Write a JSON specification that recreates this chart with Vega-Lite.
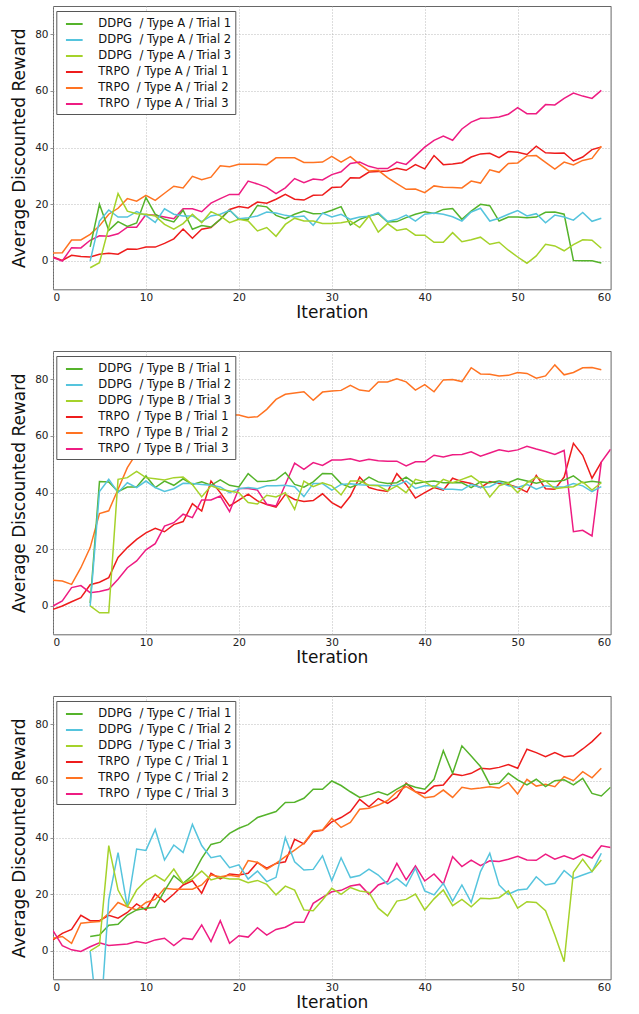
{
  "$schema": "https://vega.github.io/schema/vega-lite/v6.json",
  "padding": {"left": 10, "top": 5, "right": 0, "bottom": 0},
  "spacing": 28,
  "resolve": {"scale": {"color": "independent"}, "legend": {"color": "independent"}},
  "config": {
    "font": "DejaVu Sans",
    "view": {"stroke": "#666", "strokeWidth": 1},
    "axis": {"domain": false, "ticks": false, "grid": true, "gridColor": "#aaaaaa", "gridDash": [1, 2], "gridWidth": 0.8,
      "labelFont": "DejaVu Sans", "labelFontSize": 10.5, "labelColor": "#222222",
      "titleFont": "DejaVu Sans", "titleFontSize": 17, "titleFontWeight": "normal", "titleColor": "#111111"},
    "axisX": {"labelPadding": 3, "titlePadding": 2},
    "axisY": {"ticks": true, "tickSize": 3, "tickColor": "#777777", "tickWidth": 0.8, "labelPadding": 2, "titlePadding": 6},
    "legend": {"orient": "none", "legendX": 3.3, "legendY": 5, "fillColor": "white", "strokeColor": "#555555", "padding": 3.5,
      "symbolType": "stroke", "symbolSize": 279, "symbolStrokeWidth": 2, "symbolOffset": 5, "labelFont": "DejaVu Sans", "labelFontSize": 11.6,
      "labelColor": "#111111", "labelOffset": 14.5, "rowPadding": 0, "labelLimit": 300}
  },
  "vconcat": [
    {
      "width": 557.6, "height": 283.3,
      "data": {"values": [
        {"i":0,"d1":null,"d2":null,"d3":null,"t1":1.4,"t2":2.8,"t3":1.2},
        {"i":1,"d1":null,"d2":null,"d3":null,"t1":0.2,"t2":2.9,"t3":0},
        {"i":2,"d1":null,"d2":null,"d3":null,"t1":2,"t2":7.4,"t3":4.7},
        {"i":3,"d1":null,"d2":null,"d3":null,"t1":1.6,"t2":7.4,"t3":4.6},
        {"i":4,"d1":5,"d2":0,"d3":-2.4,"t1":1.4,"t2":9.4,"t3":7.3},
        {"i":5,"d1":20,"d2":14.1,"d3":-0.6,"t1":2.4,"t2":12.4,"t3":8.9},
        {"i":6,"d1":10.8,"d2":18,"d3":11.8,"t1":2.7,"t2":16.5,"t3":8.7},
        {"i":7,"d1":13.9,"d2":15.5,"d3":23.8,"t1":2.4,"t2":18.6,"t3":9.6},
        {"i":8,"d1":12.2,"d2":15.5,"d3":17.6,"t1":4.2,"t2":22,"t3":11.9},
        {"i":9,"d1":13.4,"d2":17.4,"d3":16.7,"t1":4.1,"t2":21.1,"t3":11.9},
        {"i":10,"d1":22.4,"d2":16,"d3":16.5,"t1":4.9,"t2":23.2,"t3":16.4},
        {"i":11,"d1":16.5,"d2":13.6,"d3":15.9,"t1":4.9,"t2":21.4,"t3":16.1},
        {"i":12,"d1":14.7,"d2":18.4,"d3":12.9,"t1":6.2,"t2":23.9,"t3":15.5},
        {"i":13,"d1":13.8,"d2":16.5,"d3":11.2,"t1":7.8,"t2":26.4,"t3":14.9},
        {"i":14,"d1":17.9,"d2":15.9,"d3":13.2,"t1":11.3,"t2":25.8,"t3":18.4},
        {"i":15,"d1":11.2,"d2":15.9,"d3":16.5,"t1":8,"t2":29.9,"t3":18.4},
        {"i":16,"d1":12.5,"d2":13.9,"d3":13.5,"t1":11.2,"t2":28.7,"t3":17.4},
        {"i":17,"d1":12,"d2":15.9,"d3":17.4,"t1":11.8,"t2":29.6,"t3":20.4},
        {"i":18,"d1":14.7,"d2":16.5,"d3":15.9,"t1":14.7,"t2":33.6,"t3":22},
        {"i":19,"d1":18,"d2":17.9,"d3":13.5,"t1":18.2,"t2":33.3,"t3":23.5},
        {"i":20,"d1":14.7,"d2":14.9,"d3":14.7,"t1":19.2,"t2":34.1,"t3":23.5},
        {"i":21,"d1":14.7,"d2":15.3,"d3":14.1,"t1":18.7,"t2":34.1,"t3":28.2},
        {"i":22,"d1":19.6,"d2":15.9,"d3":10.6,"t1":20.8,"t2":34.1,"t3":27.2},
        {"i":23,"d1":19.1,"d2":17.3,"d3":11.8,"t1":20.4,"t2":34,"t3":26},
        {"i":24,"d1":16.1,"d2":16.9,"d3":8.7,"t1":21.8,"t2":36.4,"t3":23.8},
        {"i":25,"d1":14.9,"d2":16.1,"d3":12.9,"t1":23.5,"t2":36.4,"t3":25.8},
        {"i":26,"d1":16.5,"d2":15.5,"d3":15.1,"t1":21.8,"t2":36.4,"t3":29.1},
        {"i":27,"d1":17.6,"d2":15.9,"d3":14.1,"t1":21.5,"t2":34.8,"t3":27.6},
        {"i":28,"d1":16.7,"d2":12.6,"d3":14.1,"t1":23.2,"t2":34.8,"t3":28.9},
        {"i":29,"d1":16.8,"d2":16.9,"d3":13.2,"t1":23.3,"t2":34.9,"t3":28.6},
        {"i":30,"d1":17.9,"d2":15.5,"d3":13.2,"t1":25.9,"t2":36.9,"t3":30.5},
        {"i":31,"d1":19.2,"d2":16.5,"d3":13.5,"t1":26.1,"t2":34.9,"t3":31.5},
        {"i":32,"d1":12.7,"d2":14.7,"d3":14.1,"t1":29.4,"t2":36.8,"t3":34.4},
        {"i":33,"d1":14.7,"d2":15.5,"d3":11.8,"t1":29.3,"t2":34.1,"t3":34.9},
        {"i":34,"d1":15.9,"d2":15.8,"d3":15.9,"t1":31.4,"t2":31.8,"t3":33.4},
        {"i":35,"d1":16.7,"d2":17.1,"d3":10.2,"t1":31.6,"t2":32,"t3":32.6},
        {"i":36,"d1":13.8,"d2":13.9,"d3":13.2,"t1":31.8,"t2":29.4,"t3":32.6},
        {"i":37,"d1":13.9,"d2":14.7,"d3":10.8,"t1":32.7,"t2":27.3,"t3":34.9},
        {"i":38,"d1":15.3,"d2":16.2,"d3":11.4,"t1":32,"t2":25.3,"t3":34.1},
        {"i":39,"d1":16.5,"d2":14.1,"d3":9.1,"t1":34,"t2":25.4,"t3":37.1},
        {"i":40,"d1":17.4,"d2":16.5,"d3":9.1,"t1":32.5,"t2":24.1,"t3":40.2},
        {"i":41,"d1":16.8,"d2":16.9,"d3":6.6,"t1":37.2,"t2":26.5,"t3":42.6},
        {"i":42,"d1":18.2,"d2":16.5,"d3":6.6,"t1":34,"t2":26,"t3":44.1},
        {"i":43,"d1":18.5,"d2":15.6,"d3":10,"t1":34.2,"t2":25.9,"t3":42.6},
        {"i":44,"d1":14.7,"d2":14.1,"d3":6.8,"t1":34.7,"t2":25.8,"t3":46.6},
        {"i":45,"d1":17.6,"d2":17.3,"d3":7.5,"t1":36.7,"t2":28.2,"t3":49},
        {"i":46,"d1":20,"d2":18.6,"d3":8.4,"t1":37.8,"t2":27.5,"t3":50.4},
        {"i":47,"d1":19.5,"d2":14.1,"d3":5.9,"t1":38,"t2":32.2,"t3":50.5},
        {"i":48,"d1":14.1,"d2":15.1,"d3":6.6,"t1":36.5,"t2":31.3,"t3":50.8},
        {"i":49,"d1":15.5,"d2":16.5,"d3":3.8,"t1":38.6,"t2":34.4,"t3":51.8},
        {"i":50,"d1":15.5,"d2":17.8,"d3":1.4,"t1":38.4,"t2":34.6,"t3":54.1},
        {"i":51,"d1":15.3,"d2":15.9,"d3":-0.8,"t1":37.6,"t2":37.1,"t3":52},
        {"i":52,"d1":15.5,"d2":16.7,"d3":1.8,"t1":40.5,"t2":37.2,"t3":52},
        {"i":53,"d1":17.2,"d2":13.5,"d3":5.9,"t1":38.2,"t2":34.8,"t3":55.2},
        {"i":54,"d1":17.3,"d2":16.2,"d3":5.3,"t1":38,"t2":32.4,"t3":55.1},
        {"i":55,"d1":16.5,"d2":15.5,"d3":3.6,"t1":38.1,"t2":34.9,"t3":57.4},
        {"i":56,"d1":0.2,"d2":14.4,"d3":5.8,"t1":35.3,"t2":33.9,"t3":59.3},
        {"i":57,"d1":0.1,"d2":17.1,"d3":7.5,"t1":36.7,"t2":35.5,"t3":58.2},
        {"i":58,"d1":0.1,"d2":14,"d3":7.3,"t1":39.3,"t2":36.2,"t3":57.4},
        {"i":59,"d1":-0.7,"d2":15.1,"d3":4.5,"t1":40.2,"t2":40.5,"t3":60.2}
      ]},
      "transform": [
        {"fold": ["d1", "d2", "d3", "t1", "t2", "t3"], "as": ["s", "v"]},
        {"filter": "datum.v != null"}
      ],
      "mark": {"type": "line", "strokeWidth": 1.5, "clip": true},
      "encoding": {
        "x": {"field": "i", "type": "quantitative", "scale": {"domain": [0, 60], "nice": false, "zero": false}, "axis": {"values": [0, 10, 20, 30, 40, 50, 60], "title": "Iteration"}},
        "y": {"field": "v", "type": "quantitative", "scale": {"domain": [-10, 90], "nice": false, "zero": false}, "axis": {"values": [0, 20, 40, 60, 80], "title": "Average Discounted Reward"}},
        "color": {"field": "s", "type": "nominal",
          "scale": {"domain": ["d1", "d2", "d3", "t1", "t2", "t3"], "range": ["#55b32b", "#55c4dd", "#a5d22a", "#ee1c1c", "#ff7322", "#ee1c82"]},
          "legend": {"title": null, "labelExpr": "{'d1':'DDPG\u00a0 / Type A / Trial 1','d2':'DDPG\u00a0 / Type A / Trial 2','d3':'DDPG\u00a0 / Type A / Trial 3','t1':'TRPO\u00a0 / Type A / Trial 1','t2':'TRPO\u00a0 / Type A / Trial 2','t3':'TRPO\u00a0 / Type A / Trial 3'}[datum.label]"}}
      }
    },
    {
      "width": 557.6, "height": 283.3,
      "data": {"values": [
        {"i":0,"d1":null,"d2":null,"d3":null,"t1":-1.2,"t2":9.1,"t3":0},
        {"i":1,"d1":null,"d2":null,"d3":null,"t1":0,"t2":8.8,"t3":1.8},
        {"i":2,"d1":null,"d2":null,"d3":null,"t1":1.5,"t2":7.6,"t3":6.5},
        {"i":3,"d1":null,"d2":null,"d3":null,"t1":2.9,"t2":13.5,"t3":7.2},
        {"i":4,"d1":1,"d2":0,"d3":0,"t1":7.5,"t2":20.6,"t3":4.7},
        {"i":5,"d1":43.9,"d2":40.4,"d3":-2.4,"t1":8.4,"t2":32.6,"t3":5.1},
        {"i":6,"d1":43.8,"d2":44.7,"d3":-2.4,"t1":10,"t2":33.6,"t3":5.9},
        {"i":7,"d1":40.4,"d2":40,"d3":44.7,"t1":17.1,"t2":41.2,"t3":9.4},
        {"i":8,"d1":42,"d2":43.5,"d3":45.3,"t1":20.6,"t2":48.8,"t3":13.5},
        {"i":9,"d1":42,"d2":41.8,"d3":47.5,"t1":23.5,"t2":54,"t3":15.9},
        {"i":10,"d1":45.9,"d2":44.1,"d3":45.3,"t1":25.8,"t2":57,"t3":19.8},
        {"i":11,"d1":41.8,"d2":41.8,"d3":44.9,"t1":27.4,"t2":59,"t3":22},
        {"i":12,"d1":44.1,"d2":40.4,"d3":44.5,"t1":26.2,"t2":61,"t3":28.2},
        {"i":13,"d1":42.6,"d2":41.4,"d3":45.3,"t1":28.7,"t2":62,"t3":29.4},
        {"i":14,"d1":44.9,"d2":43.3,"d3":45.5,"t1":29.8,"t2":63,"t3":32.4},
        {"i":15,"d1":42.9,"d2":43.2,"d3":42.9,"t1":36.1,"t2":64,"t3":31.2},
        {"i":16,"d1":43.8,"d2":42.9,"d3":38.5,"t1":33.5,"t2":65,"t3":37.4},
        {"i":17,"d1":42.6,"d2":42.6,"d3":42.4,"t1":44.1,"t2":66,"t3":37.4},
        {"i":18,"d1":44.5,"d2":42,"d3":41.2,"t1":40,"t2":66.5,"t3":38.8},
        {"i":19,"d1":42.6,"d2":40,"d3":40.6,"t1":35.3,"t2":67.5,"t3":33.3},
        {"i":20,"d1":42,"d2":41.4,"d3":40,"t1":37.4,"t2":67.4,"t3":41.5},
        {"i":21,"d1":46.7,"d2":41.8,"d3":36.5,"t1":39.5,"t2":66.5,"t3":41.5},
        {"i":22,"d1":43.9,"d2":41.4,"d3":36,"t1":37.1,"t2":66.8,"t3":40.9},
        {"i":23,"d1":44,"d2":42.4,"d3":39.1,"t1":35.8,"t2":69.4,"t3":35.9},
        {"i":24,"d1":44.5,"d2":42.4,"d3":38.5,"t1":34.9,"t2":72.9,"t3":35.3},
        {"i":25,"d1":47.1,"d2":42.6,"d3":40,"t1":39.4,"t2":74.7,"t3":42.9},
        {"i":26,"d1":42.9,"d2":42.1,"d3":34.1,"t1":37.6,"t2":75.2,"t3":50.4},
        {"i":27,"d1":41.9,"d2":38.6,"d3":44.1,"t1":36.9,"t2":75.6,"t3":48.2},
        {"i":28,"d1":43.8,"d2":43.2,"d3":42.1,"t1":37.2,"t2":72.6,"t3":50.6},
        {"i":29,"d1":46.8,"d2":43.2,"d3":43.5,"t1":39.6,"t2":75.5,"t3":49.6},
        {"i":30,"d1":46.7,"d2":40.9,"d3":42.4,"t1":36.5,"t2":75.9,"t3":51.5},
        {"i":31,"d1":43.2,"d2":42.9,"d3":39.2,"t1":34.7,"t2":76.1,"t3":51.5},
        {"i":32,"d1":41.8,"d2":43.1,"d3":44.1,"t1":38.8,"t2":77.9,"t3":52},
        {"i":33,"d1":43.2,"d2":42.8,"d3":44.1,"t1":45.5,"t2":76.2,"t3":51.1},
        {"i":34,"d1":45.5,"d2":42.6,"d3":42.6,"t1":41.8,"t2":75.8,"t3":51.8},
        {"i":35,"d1":43.8,"d2":42.6,"d3":42.4,"t1":40.9,"t2":79.1,"t3":51.3},
        {"i":36,"d1":43.2,"d2":42.4,"d3":40.6,"t1":40.4,"t2":79.1,"t3":51.1},
        {"i":37,"d1":43.5,"d2":42.6,"d3":42.4,"t1":46.7,"t2":80.2,"t3":51.1},
        {"i":38,"d1":45.5,"d2":44.1,"d3":40,"t1":42.9,"t2":79.1,"t3":49.4},
        {"i":39,"d1":43.2,"d2":41.5,"d3":44.7,"t1":38.1,"t2":76.2,"t3":50.9},
        {"i":40,"d1":43.8,"d2":42.4,"d3":43.8,"t1":40,"t2":78.1,"t3":50.9},
        {"i":41,"d1":44.1,"d2":42.4,"d3":41.8,"t1":41.8,"t2":75.6,"t3":53.2},
        {"i":42,"d1":43.5,"d2":41.2,"d3":44.7,"t1":40.9,"t2":79.8,"t3":52.6},
        {"i":43,"d1":43.5,"d2":41.2,"d3":43.5,"t1":45.1,"t2":79.9,"t3":53.4},
        {"i":44,"d1":43.5,"d2":40.9,"d3":44.7,"t1":43.9,"t2":79.2,"t3":53.5},
        {"i":45,"d1":41.8,"d2":42.9,"d3":45.9,"t1":43.2,"t2":84.1,"t3":54.4},
        {"i":46,"d1":43.8,"d2":41.8,"d3":43.5,"t1":41.8,"t2":81.9,"t3":52.9},
        {"i":47,"d1":43.5,"d2":42.1,"d3":38.5,"t1":43.9,"t2":81.8,"t3":54},
        {"i":48,"d1":44.1,"d2":43.8,"d3":42.4,"t1":43.2,"t2":81.2,"t3":55.1},
        {"i":49,"d1":43.5,"d2":42.4,"d3":43.5,"t1":42.9,"t2":81.4,"t3":54.5},
        {"i":50,"d1":44.9,"d2":41.8,"d3":40,"t1":41.8,"t2":82.4,"t3":55.1},
        {"i":51,"d1":44.1,"d2":42.9,"d3":43.5,"t1":40.2,"t2":82.1,"t3":56.4},
        {"i":52,"d1":43.3,"d2":41.2,"d3":45.5,"t1":46.1,"t2":80.4,"t3":55.4},
        {"i":53,"d1":44.1,"d2":42.4,"d3":44.1,"t1":41.4,"t2":81.2,"t3":54.5},
        {"i":54,"d1":43.9,"d2":42,"d3":41.4,"t1":41.2,"t2":85.1,"t3":53.5},
        {"i":55,"d1":44.4,"d2":42,"d3":41.8,"t1":45.5,"t2":81.6,"t3":54.9},
        {"i":56,"d1":45.9,"d2":43.2,"d3":42.1,"t1":57.4,"t2":82.4,"t3":26.2},
        {"i":57,"d1":43.5,"d2":42.4,"d3":43.8,"t1":53.2,"t2":84.1,"t3":26.7},
        {"i":58,"d1":44,"d2":40.4,"d3":40.9,"t1":45.1,"t2":84.2,"t3":24.7},
        {"i":59,"d1":43.6,"d2":42.1,"d3":43.5,"t1":50.8,"t2":83.4,"t3":50.8},
        {"i":60,"d1":null,"d2":null,"d3":null,"t1":null,"t2":null,"t3":55.3}
      ]},
      "transform": [
        {"fold": ["d1", "d2", "d3", "t1", "t2", "t3"], "as": ["s", "v"]},
        {"filter": "datum.v != null"}
      ],
      "mark": {"type": "line", "strokeWidth": 1.5, "clip": true},
      "encoding": {
        "x": {"field": "i", "type": "quantitative", "scale": {"domain": [0, 60], "nice": false, "zero": false}, "axis": {"values": [0, 10, 20, 30, 40, 50, 60], "title": "Iteration"}},
        "y": {"field": "v", "type": "quantitative", "scale": {"domain": [-10, 90], "nice": false, "zero": false}, "axis": {"values": [0, 20, 40, 60, 80], "title": "Average Discounted Reward"}},
        "color": {"field": "s", "type": "nominal",
          "scale": {"domain": ["d1", "d2", "d3", "t1", "t2", "t3"], "range": ["#55b32b", "#55c4dd", "#a5d22a", "#ee1c1c", "#ff7322", "#ee1c82"]},
          "legend": {"title": null, "labelExpr": "{'d1':'DDPG\u00a0 / Type B / Trial 1','d2':'DDPG\u00a0 / Type B / Trial 2','d3':'DDPG\u00a0 / Type B / Trial 3','t1':'TRPO\u00a0 / Type B / Trial 1','t2':'TRPO\u00a0 / Type B / Trial 2','t3':'TRPO\u00a0 / Type B / Trial 3'}[datum.label]"}}
      }
    },
    {
      "width": 557.6, "height": 283.3,
      "data": {"values": [
        {"i":0,"d1":null,"d2":null,"d3":null,"t1":3.9,"t2":4.5,"t3":7.2},
        {"i":1,"d1":null,"d2":null,"d3":null,"t1":6.2,"t2":5.1,"t3":1.9},
        {"i":2,"d1":null,"d2":null,"d3":null,"t1":7.6,"t2":2.7,"t3":0.4},
        {"i":3,"d1":null,"d2":null,"d3":null,"t1":12.6,"t2":9.8,"t3":-0.2},
        {"i":4,"d1":5.1,"d2":0,"d3":0,"t1":10.7,"t2":10.1,"t3":1.5},
        {"i":5,"d1":5.6,"d2":-30,"d3":2.1,"t1":10.7,"t2":10.4,"t3":2.9},
        {"i":6,"d1":9.1,"d2":18,"d3":37.2,"t1":12.6,"t2":13.3,"t3":1.9},
        {"i":7,"d1":9.4,"d2":34.7,"d3":21.5,"t1":11.6,"t2":17.1,"t3":2.2},
        {"i":8,"d1":12.7,"d2":15.6,"d3":15.6,"t1":13.6,"t2":15.6,"t3":2.5},
        {"i":9,"d1":14.5,"d2":36,"d3":21.5,"t1":16.6,"t2":14.5,"t3":3.3},
        {"i":10,"d1":15.1,"d2":35.5,"d3":24.8,"t1":14.5,"t2":17.1,"t3":2.7},
        {"i":11,"d1":15.4,"d2":42.9,"d3":26.8,"t1":20.1,"t2":18.2,"t3":3.9},
        {"i":12,"d1":21.2,"d2":32.1,"d3":24.7,"t1":17.3,"t2":22.1,"t3":4.5},
        {"i":13,"d1":26.6,"d2":37.4,"d3":28.9,"t1":20.1,"t2":21.8,"t3":1.9},
        {"i":14,"d1":23.9,"d2":34.8,"d3":23.9,"t1":23.3,"t2":21.8,"t3":4.5},
        {"i":15,"d1":26.6,"d2":44.7,"d3":25.4,"t1":24.8,"t2":21.8,"t3":4.1},
        {"i":16,"d1":32.7,"d2":37.2,"d3":28.2,"t1":20.4,"t2":23.3,"t3":9.2},
        {"i":17,"d1":37.6,"d2":32.9,"d3":25.1,"t1":27.4,"t2":26.8,"t3":3.3},
        {"i":18,"d1":38.4,"d2":33.6,"d3":26,"t1":25.4,"t2":26.2,"t3":10.7},
        {"i":19,"d1":41.5,"d2":29.4,"d3":25.4,"t1":27.2,"t2":26.7,"t3":2.7},
        {"i":20,"d1":43.3,"d2":30.4,"d3":25.4,"t1":26.8,"t2":26.2,"t3":5.4},
        {"i":21,"d1":44.6,"d2":25.4,"d3":24.1,"t1":27.4,"t2":31.9,"t3":4.9},
        {"i":22,"d1":47.1,"d2":28.2,"d3":24.9,"t1":31.2,"t2":31.3,"t3":8.2},
        {"i":23,"d1":48.2,"d2":24.5,"d3":23.5,"t1":29.2,"t2":28.8,"t3":5.6},
        {"i":24,"d1":49.2,"d2":26,"d3":19.8,"t1":30.9,"t2":30.9,"t3":7.6},
        {"i":25,"d1":52.4,"d2":40,"d3":22.9,"t1":31.5,"t2":33.3,"t3":8.4},
        {"i":26,"d1":52.5,"d2":31.5,"d3":21.5,"t1":39.4,"t2":35.6,"t3":10.1},
        {"i":27,"d1":53.9,"d2":28.6,"d3":14.5,"t1":37.8,"t2":38,"t3":10.1},
        {"i":28,"d1":57.1,"d2":28.8,"d3":14.2,"t1":42.1,"t2":42.4,"t3":16.8},
        {"i":29,"d1":57.1,"d2":33.6,"d3":18,"t1":42.6,"t2":42.7,"t3":18.9},
        {"i":30,"d1":60,"d2":24.8,"d3":22.1,"t1":45.6,"t2":46.8,"t3":20.9},
        {"i":31,"d1":58.4,"d2":32.9,"d3":20,"t1":47.1,"t2":43.6,"t3":21.4},
        {"i":32,"d1":56.2,"d2":25.9,"d3":22.4,"t1":49.2,"t2":45.4,"t3":22.9},
        {"i":33,"d1":54.2,"d2":26.6,"d3":21.2,"t1":53.5,"t2":50,"t3":23.5},
        {"i":34,"d1":55.1,"d2":28.9,"d3":20.7,"t1":50.9,"t2":50.4,"t3":20},
        {"i":35,"d1":56.2,"d2":26.8,"d3":15.1,"t1":53.8,"t2":51.5,"t3":23.3},
        {"i":36,"d1":55.1,"d2":23.5,"d3":12.4,"t1":52.1,"t2":53.1,"t3":24.5},
        {"i":37,"d1":57.1,"d2":25.6,"d3":17.6,"t1":54.2,"t2":56.2,"t3":30.9},
        {"i":38,"d1":58.9,"d2":22.9,"d3":18.2,"t1":59.2,"t2":58,"t3":25.1},
        {"i":39,"d1":57.8,"d2":29.2,"d3":20.1,"t1":56.2,"t2":56.2,"t3":30},
        {"i":40,"d1":57.1,"d2":21.2,"d3":14.5,"t1":55.6,"t2":54.1,"t3":24.7},
        {"i":41,"d1":60.6,"d2":19.8,"d3":18.4,"t1":58.2,"t2":54.5,"t3":27.2},
        {"i":42,"d1":70.7,"d2":23.9,"d3":21.5,"t1":58.6,"t2":56.8,"t3":23.6},
        {"i":43,"d1":62.7,"d2":17.6,"d3":16,"t1":62.5,"t2":54.2,"t3":33.3},
        {"i":44,"d1":72.4,"d2":23.3,"d3":18.2,"t1":61.9,"t2":57.8,"t3":29.8},
        {"i":45,"d1":68.8,"d2":17.2,"d3":15.6,"t1":62.7,"t2":57.2,"t3":32.1},
        {"i":46,"d1":65.1,"d2":28,"d3":18.6,"t1":64.5,"t2":57.5,"t3":30.1},
        {"i":47,"d1":58.8,"d2":34.5,"d3":18.4,"t1":64.2,"t2":58,"t3":31.8},
        {"i":48,"d1":59.2,"d2":23.3,"d3":18.8,"t1":64.8,"t2":57.5,"t3":31.6},
        {"i":49,"d1":62.7,"d2":20,"d3":21.2,"t1":65.8,"t2":59.4,"t3":32.4},
        {"i":50,"d1":60.4,"d2":21.5,"d3":15.1,"t1":64.5,"t2":55.4,"t3":33.4},
        {"i":51,"d1":58.6,"d2":21.9,"d3":17.4,"t1":71.2,"t2":60.6,"t3":32.1},
        {"i":52,"d1":60.6,"d2":26.2,"d3":17.1,"t1":70,"t2":58.2,"t3":32},
        {"i":53,"d1":58,"d2":23.3,"d3":14.2,"t1":68.6,"t2":58.8,"t3":34.2},
        {"i":54,"d1":60.1,"d2":23.9,"d3":5.6,"t1":70,"t2":58,"t3":32.4},
        {"i":55,"d1":60.4,"d2":28.4,"d3":-3.8,"t1":68.6,"t2":61.5,"t3":33.6},
        {"i":56,"d1":58.6,"d2":25.6,"d3":27.8,"t1":68.9,"t2":60.1,"t3":32.4},
        {"i":57,"d1":60.9,"d2":26.8,"d3":32.4,"t1":71.3,"t2":63.3,"t3":34.1},
        {"i":58,"d1":55.6,"d2":28,"d3":28,"t1":73.9,"t2":61.1,"t3":32.8},
        {"i":59,"d1":54.7,"d2":34.5,"d3":32.1,"t1":77.1,"t2":64.5,"t3":37.1},
        {"i":60,"d1":57.8,"d2":null,"d3":null,"t1":null,"t2":null,"t3":36.5}
      ]},
      "transform": [
        {"fold": ["d1", "d2", "d3", "t1", "t2", "t3"], "as": ["s", "v"]},
        {"filter": "datum.v != null"}
      ],
      "mark": {"type": "line", "strokeWidth": 1.5, "clip": true},
      "encoding": {
        "x": {"field": "i", "type": "quantitative", "scale": {"domain": [0, 60], "nice": false, "zero": false}, "axis": {"values": [0, 10, 20, 30, 40, 50, 60], "title": "Iteration"}},
        "y": {"field": "v", "type": "quantitative", "scale": {"domain": [-10, 90], "nice": false, "zero": false}, "axis": {"values": [0, 20, 40, 60, 80], "title": "Average Discounted Reward"}},
        "color": {"field": "s", "type": "nominal",
          "scale": {"domain": ["d1", "d2", "d3", "t1", "t2", "t3"], "range": ["#55b32b", "#55c4dd", "#a5d22a", "#ee1c1c", "#ff7322", "#ee1c82"]},
          "legend": {"title": null, "labelExpr": "{'d1':'DDPG\u00a0 / Type C / Trial 1','d2':'DDPG\u00a0 / Type C / Trial 2','d3':'DDPG\u00a0 / Type C / Trial 3','t1':'TRPO\u00a0 / Type C / Trial 1','t2':'TRPO\u00a0 / Type C / Trial 2','t3':'TRPO\u00a0 / Type C / Trial 3'}[datum.label]"}}
      }
    }
  ]
}
